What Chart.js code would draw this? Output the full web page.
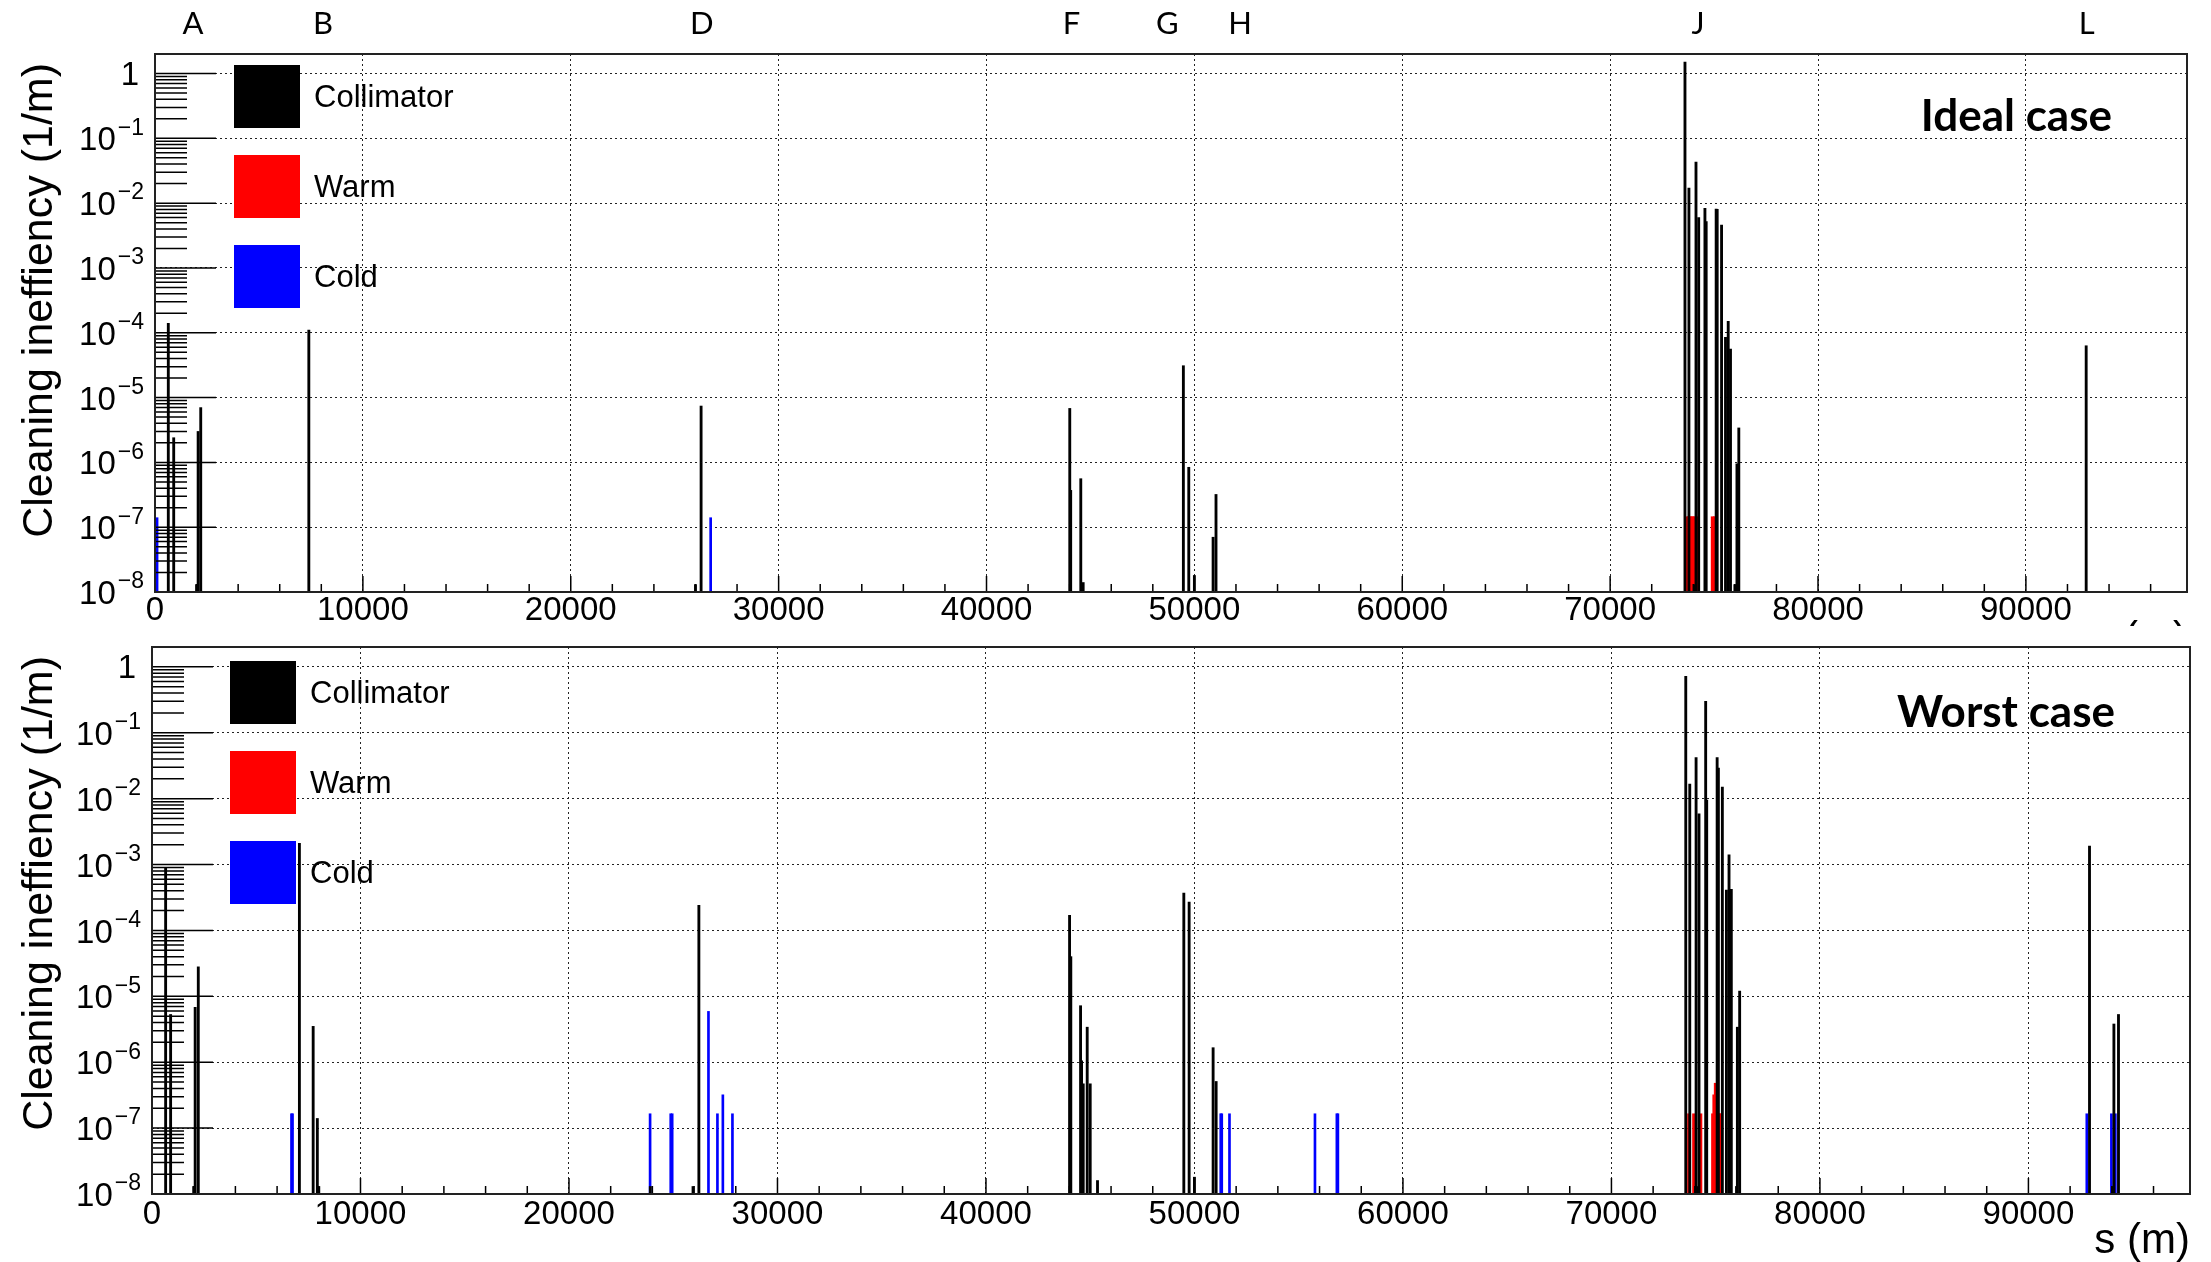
<!DOCTYPE html>
<html>
<head>
<meta charset="utf-8">
<script src="https://cdn.jsdelivr.net/npm/chart.js@4.4.0/dist/chart.umd.min.js"></script>
<style>
  html, body { margin: 0; padding: 0; background: #fff; }
  #page { position: relative; width: 2211px; height: 1262px; overflow: hidden; }
  .panel { position: absolute; left: 0; width: 2211px; background: #fff; }
  #top { top: 0; height: 660px; }
  #bottom { top: 626px; height: 636px; }
</style>
</head>
<body>
<div id="page">
  <div class="panel" id="top"><canvas id="idealChart"></canvas></div>
  <div class="panel" id="bottom"><canvas id="worstChart"></canvas></div>
</div>
<script>
// axes
const xTicks = [0, 10000, 20000, 30000, 40000, 50000, 60000, 70000, 80000, 90000];
const yTicks = [1, 1e-1, 1e-2, 1e-3, 1e-4, 1e-5, 1e-6, 1e-7, 1e-8];
const sMax = 97750;
const yMin = 1e-8;
const yMax = 2;

// points along the ring (letters above the top panel)
const siteNames = ['A', 'B', 'D', 'F', 'G', 'H', 'J', 'L'];
const siteS = [1830, 8080, 26300, 44090, 48700, 52200, 74230, 92930];

const seriesNames = ['Collimator', 'Warm', 'Cold'];
const seriesColors = ['#000000', '#ff0000', '#0000ff'];
const barWidths = [2.2, 3, 2];

// ideal case, [s (m), cleaning inefficiency (1/m)]
const idealCollimator = [
  [640, 1.4e-4], [900, 2.4e-6], [2000, 1.3e-8], [2075, 3e-6], [2200, 7e-6],
  [7400, 1.1e-4], [26000, 1.3e-8], [26270, 7.4e-6],
  [44005, 6.8e-6], [44050, 3.7e-7], [44535, 5.6e-7], [44650, 1.4e-8],
  [49470, 3.1e-5], [49730, 8.4e-7], [50000, 1.8e-8], [50900, 7e-8], [51040, 3.2e-7],
  [73600, 1.5], [73790, 0.017], [74060, 1.3e-8], [74130, 0.043], [74260, 0.006],
  [74560, 0.0083], [74620, 0.0052], [75100, 0.0081], [75150, 0.008], [75360, 0.0046],
  [75550, 8.5e-5], [75680, 1.5e-4], [75790, 5.6e-5], [76000, 1.3e-8],
  [76100, 9.5e-7], [76190, 3.4e-6], [92900, 6.3e-5]
];
const idealWarm = [
  [73700, 1.45e-7], [73790, 1.45e-7], [73880, 1.45e-7], [73970, 1.45e-7],
  [74060, 1.45e-7], [74170, 1.45e-7], [74930, 1.45e-7], [75030, 1.45e-7]
];
const idealCold = [[100, 1.4e-7], [26730, 1.4e-7]];

// worst case
const worstCollimator = [
  [654, 9e-4], [893, 5.3e-6], [2000, 1.3e-8], [2070, 6.8e-6], [2220, 2.8e-5],
  [7070, 2.1e-3], [7730, 3.5e-6], [7930, 1.4e-7], [8000, 1.3e-8],
  [23900, 1.3e-8], [25950, 1.3e-8], [26230, 2.4e-4],
  [44010, 1.7e-4], [44070, 4e-5], [44537, 7.2e-6], [44585, 1.05e-6], [44665, 4.7e-7],
  [44856, 3.4e-6], [45000, 4.7e-7], [45350, 1.6e-8],
  [49490, 3.7e-4], [49745, 2.7e-4], [50000, 1.8e-8], [50895, 1.66e-6], [51040, 5.1e-7],
  [73565, 0.72], [73757, 0.0166], [74060, 0.042], [74100, 1.3e-8], [74200, 0.0059],
  [74520, 0.3], [74570, 0.0095], [75070, 0.042], [75130, 0.029], [75320, 0.015],
  [75515, 4.1e-4], [75640, 1.4e-3], [75750, 4.2e-4], [76000, 1.3e-8],
  [76040, 3.4e-6], [76150, 1.2e-5],
  [92930, 1.9e-3], [94050, 1.3e-8], [94100, 3.8e-6], [94320, 5.3e-6]
];
const worstWarm = [
  [73720, 1.65e-7], [73960, 1.65e-7], [74270, 1.65e-7], [74870, 1.65e-7],
  [74930, 3.2e-7], [75000, 4.8e-7], [75080, 1.65e-7], [75160, 1.65e-7], [75230, 1.65e-7]
];
const worstCold = [
  [6690, 1.65e-7], [6740, 1.65e-7], [23890, 1.65e-7], [24880, 1.65e-7], [24950, 1.65e-7],
  [26690, 5.9e-6], [27120, 1.65e-7], [27380, 3.2e-7], [27840, 1.65e-7],
  [51260, 1.65e-7], [51310, 1.65e-7], [51680, 1.65e-7], [55780, 1.65e-7],
  [56830, 1.65e-7], [56880, 1.65e-7], [92800, 1.65e-7], [93980, 1.65e-7], [94170, 1.65e-7]
];

// minor tick positions (ROOT style, drawn inside the frame)
const yMinor = [];
for (let e = -8; e <= 0; e++) {
  for (let k = 2; k <= 9; k++) {
    const v = k * Math.pow(10, e);
    if (v <= yMax) yMinor.push(v);
  }
}
const xMinor = [];
for (let s = 2000; s < sMax; s += 2000) {
  if (s % 10000) xMinor.push(s);
}

Chart.defaults.font.family = '"Liberation Sans", Arial, sans-serif';
Chart.defaults.color = '#000';

const rootFrame = {
  id: 'rootFrame',
  afterDatasetsDraw(chart, args, o) {
    const {ctx, chartArea: a, scales: {x, y}} = chart;
    ctx.save();

    // ticks
    ctx.strokeStyle = '#000';
    ctx.lineWidth = 1.5;
    ctx.beginPath();
    yMinor.forEach(v => {
      const p = y.getPixelForValue(v);
      ctx.moveTo(a.left, p); ctx.lineTo(a.left + 32, p);
    });
    yTicks.forEach(v => {
      const p = y.getPixelForValue(v);
      ctx.moveTo(a.left, p); ctx.lineTo(a.left + 61, p);
    });
    xMinor.forEach(s => {
      const p = x.getPixelForValue(s);
      ctx.moveTo(p, a.bottom); ctx.lineTo(p, a.bottom - 8);
    });
    xTicks.forEach(s => {
      const p = x.getPixelForValue(s);
      ctx.moveTo(p, a.bottom); ctx.lineTo(p, a.bottom - 16);
    });
    ctx.stroke();

    // frame
    ctx.lineWidth = 2;
    ctx.strokeStyle = '#222';
    ctx.strokeRect(a.left, a.top, a.right - a.left, a.bottom - a.top);

    // y labels: 1, 10^-1 ... 10^-8
    ctx.fillStyle = '#000';
    ctx.textBaseline = 'middle';
    ctx.textAlign = 'right';
    yTicks.forEach(v => {
      const p = y.getPixelForValue(v);
      const e = Math.round(Math.log10(v));
      if (e === 0) {
        ctx.font = '33px "Liberation Sans"';
        ctx.fillText('1', a.left - 16, p + 2);
        return;
      }
      const ex = '\u2212' + (-e);
      ctx.font = '23px "Liberation Sans"';
      const w = ctx.measureText(ex).width;
      ctx.fillText(ex, a.left - 11, p - 10);
      ctx.font = '33px "Liberation Sans"';
      ctx.fillText('10', a.left - 13 - w, p + 3);
    });

    // y title
    ctx.save();
    ctx.translate(40, a.top + 9);
    ctx.rotate(-Math.PI / 2);
    ctx.textAlign = 'right';
    ctx.font = '43px "Liberation Sans"';
    ctx.fillText('Cleaning ineffiency (1/m)', 0, 0);
    ctx.restore();

    // legend
    chart.data.datasets.forEach((ds, i) => {
      const bx = a.left + o.legendDx;
      const by = a.top + o.legendDy + i * 90;
      ctx.fillStyle = seriesColors[i];
      ctx.fillRect(bx, by, 66, 63);
      ctx.fillStyle = '#000';
      ctx.textAlign = 'left';
      ctx.font = '31px "Liberation Sans"';
      ctx.fillText(ds.label, bx + 80, by + 33);
    });

    // case label
    ctx.textAlign = 'right';
    ctx.font = 'bold 44px Lato';
    ctx.fillText(o.caseText, a.right - 75, a.top + o.caseDy);

    // ring points
    if (o.sites) {
      ctx.textAlign = 'center';
      ctx.font = '31px Lato';
      siteNames.forEach((n, i) => {
        ctx.fillText(n, x.getPixelForValue(siteS[i]), 24);
      });
    }
    ctx.restore();
  }
};

function makePanel(canvasId, sets, o) {
  const datasets = sets.map((pts, i) => ({
    label: seriesNames[i],
    data: pts.map(([s, v]) => ({x: s, y: v})),
    backgroundColor: seriesColors[i],
    barThickness: barWidths[i],
    grouped: false,
    borderWidth: 0
  }));
  return new Chart(document.getElementById(canvasId), {
    type: 'bar',
    data: {datasets},
    options: {
      responsive: true,
      maintainAspectRatio: false,
      animation: false,
      events: [],
      layout: {padding: {left: 0, top: o.top, right: o.right, bottom: 0}},
      plugins: {legend: {display: false}, tooltip: {enabled: false}, rootFrame: o},
      scales: {
        x: {
          type: 'linear',
          min: 0,
          max: sMax,
          offset: false,
          afterBuildTicks: sc => { sc.ticks = xTicks.map(v => ({value: v})); },
          afterFit: sc => { sc.height = 68; },
          grid: {color: '#222', lineWidth: 1, drawTicks: false, offset: false},
          border: {display: false, dash: [2, 3]},
          ticks: {
            color: '#000', font: {size: 33, lineHeight: 1.15}, padding: o.xPad,
            maxRotation: 0, autoSkip: false, callback: v => String(v)
          },
          title: {display: true, text: 's (m)', align: 'end', color: '#000', font: {size: 42, lineHeight: 1}, padding: 0}
        },
        y: {
          type: 'logarithmic',
          min: yMin,
          max: yMax,
          afterBuildTicks: sc => { sc.ticks = yTicks.map(v => ({value: v})); },
          afterFit: sc => { sc.width = o.left; },
          grid: {color: '#222', lineWidth: 1, drawTicks: false},
          border: {display: false, dash: [2, 3]},
          ticks: {display: false}
        }
      }
    },
    plugins: [rootFrame]
  });
}

makePanel('idealChart', [idealCollimator, idealWarm, idealCold], {
  left: 155, top: 54, right: 24, xPad: 0,
  legendDx: 79, legendDy: 11, caseText: 'Ideal case', caseDy: 63, sites: true
});
makePanel('worstChart', [worstCollimator, worstWarm, worstCold], {
  left: 152, top: 21, right: 21, xPad: 2,
  legendDx: 78, legendDy: 14, caseText: 'Worst case', caseDy: 66, sites: false
});
</script>
</body>
</html>
